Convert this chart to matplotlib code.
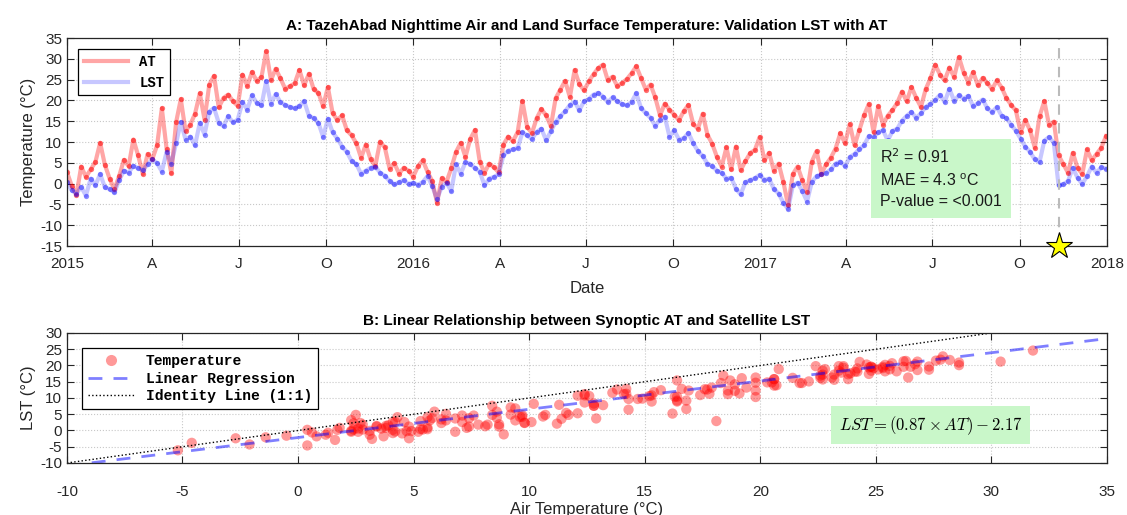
import numpy as np
import pandas as pd
import matplotlib
matplotlib.use("Agg")
import matplotlib.pyplot as plt
from matplotlib.lines import Line2D

# nightly samples, every 5 days from 2015-01-01
dates = pd.date_range("2015-01-01", periods=220, freq="5D")

# air temperature (synoptic station)
at = [2.8, -0.5, -2.7, 4.1, 1.6, 3.4, 5.2, 9.8, 4.5, 1.2,
      -1.4, 1.8, 5.7, 4.2, 10.6, 6.8, 2.3, 7.1, 5.9, 9.2,
      18.1, 8.4, 2.5, 14.7, 20.3, 12.6, 14.2, 16.8, 21.7, 15.4,
      23.8, 25.9, 18.3, 20.6, 21.4, 19.8, 18.7, 26.2, 23.5, 26.8,
      24.7, 25.6, 31.8, 24.9, 27.6, 25.3, 22.8, 23.4, 24.1, 27.3,
      23.6, 26.4, 22.7, 21.8, 18.6, 23.2, 16.9, 15.3, 16.4, 12.8,
      11.6, 9.7, 6.2, 9.4, 5.8, 4.3, 10.1, 8.7, 3.6, 4.9,
      2.4, 3.8, 3.1, 1.7, 4.2, 5.6, 2.8, 0.6, -4.6, 1.3,
      0.4, 3.7, 7.6, 9.8, 6.4, 10.7, 12.9, 5.3, 2.6, 4.8,
      3.9, 2.7, 9.4, 11.3, 10.2, 12.4, 19.8, 13.6, 12.1, 15.7,
      17.9, 16.4, 13.8, 20.5, 22.6, 24.7, 20.8, 27.3, 23.9, 22.4,
      24.6, 26.3, 27.8, 28.6, 24.8, 25.7, 23.4, 24.2, 25.1, 26.5,
      28.2, 25.4, 22.6, 23.8, 20.7, 16.4, 19.2, 17.8, 16.6, 15.2,
      17.4, 18.9, 14.3, 13.2, 16.8, 11.7, 9.6, 6.4, 4.1, 8.7,
      3.4, 8.9, 3.2, 5.4, 7.3, 8.1, 11.2, 5.6, 7.4, 3.1,
      4.8, 0.4, -5.2, 2.3, 4.1, 0.8, -2.1, 5.3, 7.8, 2.4,
      4.6, 6.2, 8.4, 12.1, 9.7, 14.3, 9.2, 12.8, 16.4, 19.1,
      12.4, 18.6, 14.2, 16.3, 17.7, 19.4, 22.1, 19.8, 23.2, 20.6,
      18.4, 22.7, 25.3, 28.6, 26.2, 24.8, 27.9, 25.6, 30.4, 26.7,
      24.3, 26.8, 23.6, 25.4, 24.2, 22.7, 24.8, 23.1, 20.6, 18.9,
      17.6, 12.4, 15.3, 12.8, 8.6, 16.2, 19.8, 14.1, 14.9, 6.8,
      4.7, 2.6, 7.4, 3.8, 2.3, 8.2, 5.6, 7.1, 8.6, 11.4]

# land surface temperature (satellite, night)
lst = [0.3, -1.6, -2.4, -0.8, -2.9, 1.2, -0.4, 2.3, -0.9, -1.3,
       -2.1, 0.8, 3.1, 2.6, 4.3, 3.7, 3.2, 4.6, 5.8, 4.9,
       2.9, 7.6, 4.8, 9.7, 14.8, 10.6, 11.3, 9.2, 14.6, 11.8,
       17.3, 18.2, 14.6, 13.8, 16.2, 14.7, 15.4, 19.6, 17.8, 21.2,
       19.4, 18.8, 24.6, 19.2, 21.5, 19.6, 18.9, 18.4, 18.1, 18.7,
       19.8, 16.3, 15.7, 14.6, 11.2, 15.6, 12.3, 10.8, 8.9, 7.6,
       5.4, 4.7, 2.3, 3.1, 3.8, 4.1, 2.6, 1.9, 0.6, -0.2,
       0.3, 0.8, -0.1, 0.2, -0.3, 0.4, 1.8, -0.6, -3.8, -0.7,
       0.2, -1.8, 4.6, 2.4, 5.1, 4.8, 3.7, 2.9, -0.4, 1.2,
       1.6, 2.3, 6.8, 7.9, 8.2, 8.6, 12.3, 11.6, 10.7, 12.4,
       13.2, 10.4, 12.6, 14.8, 16.2, 17.4, 18.9, 19.7, 17.6, 19.8,
       20.3, 21.4, 21.8, 20.9, 19.6, 20.7, 19.8, 19.1, 18.8, 19.6,
       21.7, 18.2, 16.9, 15.8, 13.9, 15.4, 16.1, 11.3, 12.8, 10.6,
       10.9, 12.2, 9.7, 7.8, 6.6, 4.8, 4.2, 3.1, 2.6, 1.2,
       1.4, -1.2, -2.6, 0.3, 0.8, 1.3, 2.1, 0.9, 1.2, -1.3,
       -2.4, -4.6, -6.1, -0.4, 0.2, -1.8, -4.3, 0.4, 1.8, 2.2,
       2.6, 3.4, 4.8, 5.3, 4.2, 6.4, 7.1, 8.3, 9.2, 11.4,
       11.2, 12.3, 12.8, 10.4, 12.6, 13.2, 15.1, 16.3, 17.2, 15.8,
       16.9, 18.4, 19.2, 20.1, 21.3, 19.6, 22.8, 19.9, 21.2, 20.4,
       21.1, 18.6, 19.3, 20.2, 18.1, 17.2, 18.4, 16.3, 15.8, 14.2,
       12.7, 10.8, 8.9, 7.6, 5.8, 5.2, 10.3, 11.2, 9.8, -0.4,
       -0.2, 0.6, 3.8, 1.4, -0.1, 1.8, 4.1, 2.6, 3.9, 3.6]

quarter_ticks = pd.to_datetime(["2015-01-01", "2015-04-01", "2015-07-01", "2015-10-01",
                                 "2016-01-01", "2016-04-01", "2016-07-01", "2016-10-01",
                                 "2017-01-01", "2017-04-01", "2017-07-01", "2017-10-01",
                                 "2018-01-01"])
quarter_labels = ["2015", "A", "J", "O", "2016", "A", "J", "O",
                  "2017", "A", "J", "O", "2018"]
event_date = pd.Timestamp("2017-11-12")

slope = 0.87
intercept = -2.17
r2 = 0.91
mae = 4.3

plt.rcParams["font.family"] = ["Liberation Sans", "DejaVu Sans"]
plt.rcParams["font.size"] = 11
plt.rcParams["axes.unicode_minus"] = False
dark = "#262626"
mono = {"family": "Liberation Mono", "weight": "bold", "size": 10}


def matlab_axes(ax):
    for s in ax.spines.values():
        s.set_color(dark)
        s.set_linewidth(0.9)
    ax.tick_params(direction="in", top=True, right=True, length=5,
                   colors=dark, labelsize=11, labelcolor=dark)
    ax.grid(True, ls=":", color="#c8c8c8", lw=0.8)
    ax.set_axisbelow(True)


fig = plt.figure(figsize=(11.27, 5.15), dpi=100)
ax1 = fig.add_axes([0.0594, 0.5223, 0.9228, 0.4039])
ax2 = fig.add_axes([0.0594, 0.101, 0.9228, 0.2524])

# ---- A: time series
ax1.plot(dates, at, color="red", lw=3, alpha=0.35, label="AT")
ax1.plot(dates, at, ls="none", marker="o", ms=3.8, color="red", alpha=0.55, mec="none")
ax1.plot(dates, lst, color="blue", lw=3, alpha=0.22, label="LST")
ax1.plot(dates, lst, ls="none", marker="o", ms=3.8, color="blue", alpha=0.45, mec="none")
ax1.axvline(event_date, color="#bbbbbb", ls="--", lw=1.5, dashes=(5, 4))
ax1.plot([event_date], [-15], marker="*", ms=20, mfc="yellow", mec="black",
         mew=0.8, clip_on=False, zorder=5)

ax1.set_xlim(quarter_ticks[0], quarter_ticks[-1])
ax1.set_ylim(-15, 35)
ax1.set_yticks(np.arange(-15, 36, 5))
ax1.set_xticks(quarter_ticks)
ax1.set_xticklabels(quarter_labels)
matlab_axes(ax1)
ax1.tick_params(axis="x", pad=8)
ax1.set_xlabel("Date", fontsize=12, color=dark, labelpad=7)
ax1.set_ylabel("Temperature (°C)", fontsize=12, color=dark, labelpad=3)
ax1.set_title("A: TazehAbad Nighttime Air and Land Surface Temperature: Validation LST with AT",
              fontsize=11, fontweight="bold", pad=6)
leg1 = ax1.legend(loc="upper left", prop=mono, fancybox=False, edgecolor="black",
                  handlelength=3.2, borderaxespad=0.8, framealpha=1)
leg1.get_frame().set_linewidth(0.9)

ax1.text(0.782, 0.325,
         "R$^2$ = %.2f\nMAE = %.1f $\\mathregular{^o}$C\nP-value = <0.001" % (r2, mae),
         transform=ax1.transAxes, fontsize=11.5, va="center", ha="left",
         linespacing=1.45, color="#1a1a1a",
         bbox=dict(boxstyle="square,pad=0.55", fc="#c9f7c9", ec="none"))

# ---- B: scatter and regression
ax2.scatter(at, lst, s=55, color="red", alpha=0.4, edgecolors="none", label="Temperature")
fit_x = np.array([-10, 35])
ax2.plot(fit_x, slope * fit_x + intercept, color="blue", ls="--", lw=2, alpha=0.5,
         dashes=(5, 4), label="Linear Regression")
ax2.plot([-10, 30], [-10, 30], color="black", ls=":", lw=1, label="Identity Line (1:1)")
ax2.set_xlim(-10, 35)
ax2.set_ylim(-10, 30)
ax2.set_xticks(np.arange(-10, 36, 5))
ax2.set_yticks(np.arange(-10, 31, 5))
matlab_axes(ax2)
ax2.tick_params(axis="x", pad=16)
ax2.set_xlabel("Air Temperature (°C)", fontsize=12, color=dark, labelpad=2)
ax2.set_ylabel("LST (°C)", fontsize=12, color=dark, labelpad=3)
ax2.set_title("B: Linear Relationship between Synoptic AT and Satellite LST",
              fontsize=11, fontweight="bold", pad=6)
handles = [Line2D([], [], ls="none", marker="o", ms=8, color="red", alpha=0.4, mec="none"),
           Line2D([], [], color="blue", ls="--", lw=2, alpha=0.5, dashes=(5, 4)),
           Line2D([], [], color="black", ls=":", lw=1)]
leg2 = ax2.legend(handles, ["Temperature", "Linear Regression", "Identity Line (1:1)"],
                  loc="upper left", prop=dict(mono, size=10.5), fancybox=False,
                  edgecolor="black", handlelength=3.2, borderaxespad=0.6, framealpha=1,
                  labelspacing=0.25, bbox_to_anchor=(0.006, 0.95))
leg2.get_frame().set_linewidth(0.9)
ax2.text(23.4, 1.6, r"$LST = (0.87 \times AT) - 2.17$", fontsize=12,
         math_fontfamily="cm", va="center", ha="left",
         bbox=dict(boxstyle="square,pad=0.45", fc="#c9f7c9", ec="none"))

fig.savefig("out.png", dpi=100)
